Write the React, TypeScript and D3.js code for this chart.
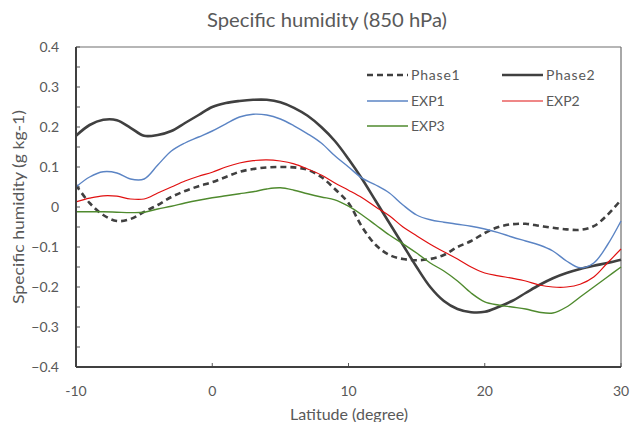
import React from "react";
import * as d3 from "d3";

const latitudes = d3.range(-10, 31, 1);

const phase1 = [0.055, 0.01, -0.02, -0.035, -0.03, -0.012, 0.005, 0.025, 0.04, 0.052, 0.062, 0.075, 0.088, 0.095, 0.099, 0.1, 0.099, 0.093, 0.075, 0.045, 0.01, -0.05, -0.095, -0.12, -0.13, -0.133, -0.13, -0.12, -0.1, -0.085, -0.065, -0.05, -0.043, -0.042, -0.047, -0.052, -0.056, -0.057, -0.048, -0.02, 0.018];
const phase2 = [0.178, 0.205, 0.218, 0.217, 0.198, 0.178, 0.18, 0.19, 0.21, 0.23, 0.25, 0.26, 0.265, 0.268, 0.268, 0.262, 0.248, 0.228, 0.2, 0.165, 0.12, 0.07, 0.015, -0.04, -0.095, -0.15, -0.2, -0.235, -0.255, -0.263, -0.262, -0.25, -0.235, -0.215, -0.195, -0.178, -0.165, -0.155, -0.147, -0.14, -0.132];
const exp1 = [0.05, 0.075, 0.088, 0.085, 0.07, 0.07, 0.105, 0.14, 0.16, 0.175, 0.19, 0.208, 0.225, 0.232, 0.23, 0.22, 0.203, 0.183, 0.16, 0.128, 0.1, 0.072, 0.055, 0.035, 0.005, -0.02, -0.032, -0.038, -0.043, -0.048, -0.055, -0.064, -0.075, -0.085, -0.095, -0.11, -0.135, -0.152, -0.14, -0.095, -0.035];
const exp2 = [0.013, 0.022, 0.028, 0.027, 0.02, 0.02, 0.035, 0.05, 0.065, 0.077, 0.087, 0.1, 0.11, 0.116, 0.118, 0.115, 0.108, 0.095, 0.08, 0.06, 0.042, 0.023, 0.0, -0.022, -0.05, -0.072, -0.093, -0.112, -0.13, -0.15, -0.165, -0.172, -0.178, -0.185, -0.195, -0.2, -0.2, -0.193, -0.175, -0.14, -0.105];
const exp3 = [-0.012, -0.012, -0.012, -0.013, -0.014, -0.013, -0.005, 0.002, 0.01, 0.017, 0.023, 0.028, 0.033, 0.038, 0.045, 0.048, 0.042, 0.033, 0.025, 0.018, 0.002, -0.02, -0.045, -0.07, -0.092, -0.115, -0.14, -0.16, -0.185, -0.215, -0.237, -0.245, -0.25, -0.255, -0.263, -0.265, -0.25, -0.225, -0.2, -0.175, -0.15];

const xTicks = [-10, 0, 10, 20, 30];
const yTicks = [0.4, 0.3, 0.2, 0.1, 0, -0.1, -0.2, -0.3, -0.4];
const yMinorTicks = d3.range(-0.4, 0.4001, 0.05);

const series = [
  { name: "Phase1", values: phase1, color: "#404040", width: 2.6, dash: "6,4" },
  { name: "Phase2", values: phase2, color: "#404040", width: 2.6, dash: null },
  { name: "EXP1", values: exp1, color: "#5B84C4", width: 1.4, dash: null },
  { name: "EXP2", values: exp2, color: "#E01010", width: 1.2, dash: null },
  { name: "EXP3", values: exp3, color: "#4F8A2E", width: 1.4, dash: null },
];

const FONT = "Lato, 'Open Sans', sans-serif";
const GREY = "#595959";

export default function App() {
  const W = 632, H = 422;
  const left = 76, right = 621, top = 47, bottom = 367;
  const x = d3.scaleLinear().domain([-10, 30]).range([left, right]);
  const y = d3.scaleLinear().domain([-0.4, 0.4]).range([bottom, top]);

  const line = d3
    .line<number>()
    .x((_, i) => x(latitudes[i]))
    .y((d) => y(d))
    .curve(d3.curveCatmullRom.alpha(0.5));

  const fmt = (v: number) => (Math.abs(v) < 1e-9 ? "0" : d3.format(".1f")(v));

  const legend = [
    { s: series[0], lx: 367, ly: 75 },
    { s: series[1], lx: 502, ly: 75 },
    { s: series[2], lx: 367, ly: 101 },
    { s: series[3], lx: 502, ly: 101 },
    { s: series[4], lx: 367, ly: 126 },
  ];

  return (
    <svg width={W} height={H} style={{ position: "absolute", left: 0, top: 0, background: "#fff" }}>
      <rect x={0} y={0} width={W} height={H} fill="#fff" />
      <text x={207} y={27} fontFamily={FONT} fontSize={19} fill={GREY} textLength={240} lengthAdjust="spacingAndGlyphs">
        Specific humidity (850 hPa)
      </text>

      {/* frame */}
      <line x1={left} x2={right} y1={top} y2={top} stroke="#6e6e6e" strokeWidth={1.2} />
      <line x1={right} x2={right} y1={top} y2={bottom} stroke="#6e6e6e" strokeWidth={1.2} />

      {/* y ticks */}
      {yMinorTicks.map((t, i) => (
        <line key={"ym" + i} x1={left} x2={left + 4} y1={y(t)} y2={y(t)} stroke="#595959" strokeWidth={1} />
      ))}
      {yTicks.map((t) => (
        <text key={"yt" + t} x={59} y={y(t) + 5} textAnchor="end" fontFamily={FONT} fontSize={14} fill={GREY}>
          {fmt(t)}
        </text>
      ))}
      {/* x ticks */}
      {xTicks.map((t) => (
        <g key={"xt" + t}>
          <line x1={x(t)} x2={x(t)} y1={bottom} y2={bottom - 4} stroke="#595959" strokeWidth={1} />
          <text x={x(t)} y={396} textAnchor="middle" fontFamily={FONT} fontSize={14} fill={GREY}>
            {t}
          </text>
        </g>
      ))}

      {/* series */}
      {series.map((s) => (
        <path
          key={s.name}
          d={line(s.values) || ""}
          fill="none"
          stroke={s.color}
          strokeWidth={s.width}
          strokeDasharray={s.dash || undefined}
          strokeLinejoin="round"
        />
      ))}

      {/* axes */}
      <line x1={left} x2={left} y1={top} y2={bottom} stroke="#404040" strokeWidth={2} />
      <line x1={left} x2={right} y1={bottom} y2={bottom} stroke="#404040" strokeWidth={2} />

      {/* axis titles */}
      <text x={290} y={420} fontFamily={FONT} fontSize={15} fill={GREY} textLength={118} lengthAdjust="spacingAndGlyphs">
        Latitude (degree)
      </text>
      <text
        transform={`translate(24, ${y(0) + 97}) rotate(-90)`}
        fontFamily={FONT}
        fontSize={15}
        fill={GREY}
        textLength={194}
        lengthAdjust="spacingAndGlyphs"
      >
        Specific humidity (g kg-1)
      </text>

      {/* legend */}
      {legend.map(({ s, lx, ly }) => (
        <g key={"lg" + s.name}>
          <line
            x1={lx}
            x2={lx + 41}
            y1={ly}
            y2={ly}
            stroke={s.color}
            strokeWidth={s.width}
            strokeDasharray={s.dash || undefined}
          />
          <text x={lx + 44} y={ly + 5} fontFamily={FONT} fontSize={14} fill={GREY} letterSpacing={s.name.startsWith("Phase") ? 0.8 : 0}>
            {s.name}
          </text>
        </g>
      ))}
    </svg>
  );
}
